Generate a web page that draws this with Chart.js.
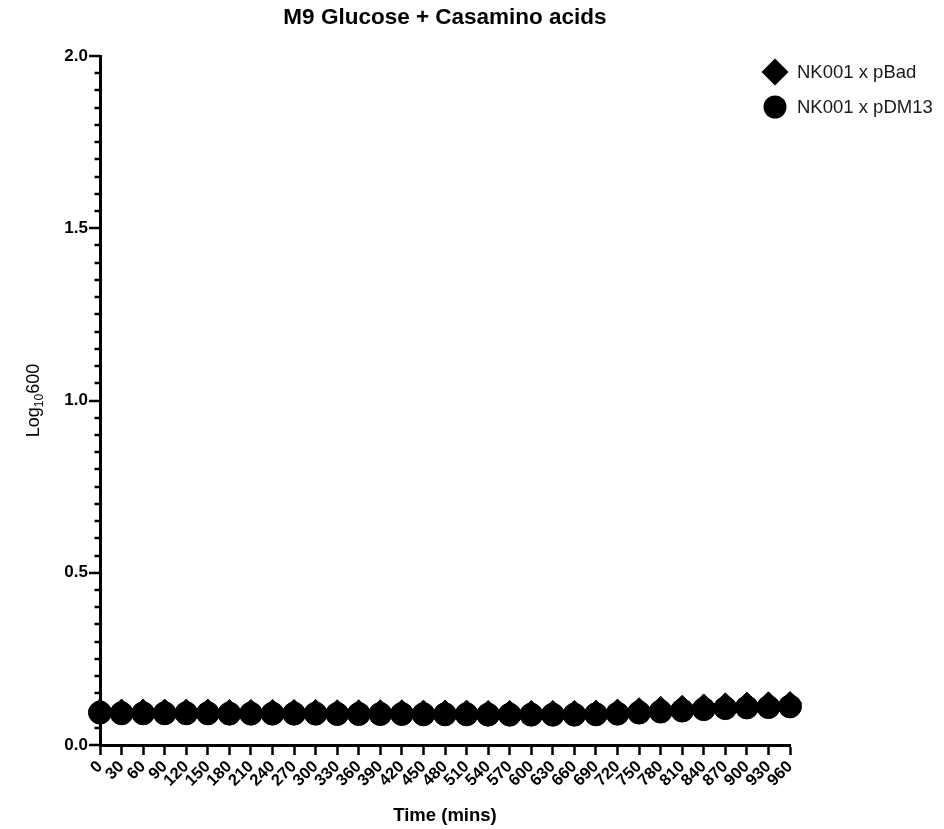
<!DOCTYPE html>
<html>
<head>
<meta charset="utf-8">
<script src="https://cdn.jsdelivr.net/npm/chart.js@4.4.0/dist/chart.umd.min.js"></script>
<style>
  body { margin: 0; background: #fff; }
  #wrap { width: 944px; height: 829px; }
</style>
</head>
<body>
<div id="wrap"><canvas id="growthChart"></canvas></div>
<script>
// data
const chartTitle = 'M9 Glucose + Casamino acids';
const times = [0, 30, 60, 90, 120, 150, 180, 210, 240, 270, 300, 330, 360, 390, 420, 450, 480,
  510, 540, 570, 600, 630, 660, 690, 720, 750, 780, 810, 840, 870, 900, 930, 960];
const pBad = [0.101, 0.100, 0.100, 0.100, 0.100, 0.100, 0.099, 0.099, 0.099, 0.099, 0.099, 0.098,
  0.098, 0.098, 0.098, 0.097, 0.097, 0.097, 0.096, 0.096, 0.096, 0.096, 0.096, 0.097, 0.100,
  0.104, 0.108, 0.111, 0.115, 0.118, 0.120, 0.121, 0.122];
const pDM13 = [0.094, 0.092, 0.092, 0.092, 0.092, 0.092, 0.091, 0.091, 0.091, 0.091, 0.091, 0.090,
  0.090, 0.090, 0.090, 0.089, 0.089, 0.089, 0.088, 0.088, 0.088, 0.088, 0.088, 0.089, 0.091,
  0.094, 0.097, 0.100, 0.104, 0.107, 0.109, 0.110, 0.112];
const seriesNames = ['NK001 x pBad', 'NK001 x pDM13'];
const yMajorTicks = [0, 0.5, 1.0, 1.5, 2.0];
const xTitle = 'Time (mins)';
const yTitle = ['Log', '10', '600'];

const FONT = "Arial, 'Liberation Sans', sans-serif";

const toPoints = vals => vals.map((v, i) => ({ x: times[i], y: v }));

// extra drawing: y minor/major ticks, title, y title with subscript, legend
const decorations = {
  id: 'decorations',
  afterDraw(chart) {
    const ctx = chart.ctx;
    const area = chart.chartArea;
    const ys = chart.scales.y;
    ctx.save();

    ctx.strokeStyle = '#000';
    ctx.lineWidth = 2.5;
    ys.ticks.forEach(t => {
      const py = Math.round(ys.getPixelForValue(t.value));
      const major = yMajorTicks.some(m => Math.abs(m - t.value) < 1e-6);
      ctx.beginPath();
      ctx.moveTo(area.left, py);
      ctx.lineTo(area.left - (major ? 11 : 5.5), py);
      ctx.stroke();
    });

    ctx.fillStyle = '#000';
    ctx.textAlign = 'center';
    ctx.textBaseline = 'middle';
    ctx.font = 'bold 22.5px ' + FONT;
    ctx.fillText(chartTitle, (area.left + area.right) / 2, 18);

    // y axis title, rotated, with subscript
    ctx.save();
    ctx.translate(33, (area.top + area.bottom) / 2);
    ctx.rotate(-Math.PI / 2);
    ctx.textAlign = 'left';
    ctx.textBaseline = 'alphabetic';
    ctx.font = '18px ' + FONT;
    const w1 = ctx.measureText(yTitle[0]).width;
    const w3 = ctx.measureText(yTitle[2]).width;
    ctx.font = '12px ' + FONT;
    const w2 = ctx.measureText(yTitle[1]).width;
    let x0 = -(w1 + w2 + w3) / 2;
    ctx.font = '18px ' + FONT;
    ctx.fillText(yTitle[0], x0, 6);
    ctx.font = '12px ' + FONT;
    ctx.fillText(yTitle[1], x0 + w1, 10);
    ctx.font = '18px ' + FONT;
    ctx.fillText(yTitle[2], x0 + w1 + w2, 6);
    ctx.restore();

    // legend
    chart.data.datasets.forEach((ds, i) => {
      const cx = 775, cy = 72 + i * 35;
      ctx.beginPath();
      if (ds.pointStyle === 'rectRot') {
        const r = 13.5;
        ctx.moveTo(cx - r, cy);
        ctx.lineTo(cx, cy - r);
        ctx.lineTo(cx + r, cy);
        ctx.lineTo(cx, cy + r);
        ctx.closePath();
      } else {
        ctx.arc(cx, cy, 11.5, 0, Math.PI * 2);
      }
      ctx.fillStyle = '#000';
      ctx.fill();
      ctx.fillStyle = '#1a1a1a';
      ctx.font = '18.5px ' + FONT;
      ctx.textAlign = 'left';
      ctx.textBaseline = 'middle';
      ctx.fillText(ds.label, 797, cy + 1);
    });

    ctx.restore();
  }
};

const ctx = document.getElementById('growthChart').getContext('2d');
const growthChart = new Chart(ctx, {
  type: 'scatter',
  data: {
    datasets: [{
      label: seriesNames[0],
      data: toPoints(pBad),
      pointStyle: 'rectRot',
      pointRadius: 11.5,
      pointHoverRadius: 11.5,
      backgroundColor: '#000',
      borderColor: '#000',
      borderWidth: 1,
      showLine: false,
      clip: false
    }, {
      label: seriesNames[1],
      data: toPoints(pDM13),
      pointStyle: 'circle',
      pointRadius: 11.5,
      pointHoverRadius: 11.5,
      backgroundColor: '#000',
      borderColor: '#000',
      borderWidth: 1,
      showLine: false,
      clip: false
    }]
  },
  options: {
    responsive: true,
    maintainAspectRatio: false,
    animation: false,
    layout: { padding: { left: 0, right: 154, top: 56, bottom: 0 } },
    plugins: {
      legend: { display: false },
      tooltip: { enabled: false }
    },
    scales: {
      x: {
        type: 'linear',
        min: 0,
        max: 960,
        afterFit: s => { s.height = 84; },
        border: { color: '#000', width: 3 },
        grid: { drawOnChartArea: false, drawTicks: true, tickLength: 10, tickWidth: 2.5, tickColor: '#000' },
        ticks: {
          stepSize: 30,
          autoSkip: false,
          minRotation: 45,
          maxRotation: 45,
          padding: 2,
          color: '#000',
          font: { family: FONT, size: 16.5, weight: 'bold' }
        },
        title: {
          display: true,
          text: xTitle,
          color: '#000',
          font: { family: FONT, size: 18.5, weight: 'bold' },
          padding: { top: 0, bottom: 2 }
        }
      },
      y: {
        min: 0,
        max: 2,
        afterFit: s => { s.width = 100; },
        border: { color: '#000', width: 3 },
        grid: { display: false },
        ticks: {
          stepSize: 0.05,
          autoSkip: false,
          padding: 4,
          color: '#000',
          font: { family: FONT, size: 17, weight: 'bold' },
          callback: v => yMajorTicks.some(m => Math.abs(m - v) < 1e-6) ? v.toFixed(1) : ''
        }
      }
    }
  },
  plugins: [decorations]
});
</script>
</body>
</html>
